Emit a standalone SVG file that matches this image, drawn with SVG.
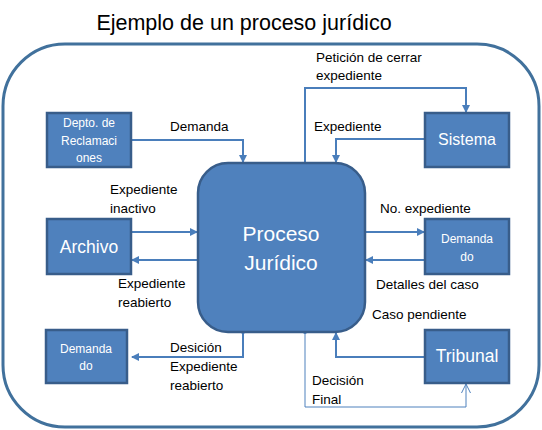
<svg xmlns="http://www.w3.org/2000/svg" width="542" height="430" viewBox="0 0 542 430">
<defs>
<style>
.box{fill:#4f81bd;stroke:#385d8a;stroke-width:2.5}
.wt{fill:#fff;font-family:"Liberation Sans",Arial,sans-serif;text-anchor:middle}
.lb{fill:#000;font-family:"Liberation Sans",Arial,sans-serif;font-size:13.5px}
.cn{fill:none;stroke:#4a7ebb;stroke-width:2}
.thin{fill:none;stroke:#4f81bd;stroke-width:1}
</style>
<marker id="ah" markerWidth="8" markerHeight="8" refX="7" refY="4" orient="auto" markerUnits="userSpaceOnUse">
<path d="M0,0 L8,4 L0,8 Z" fill="#4a7ebb"/>
</marker>
<marker id="oh" markerWidth="10" markerHeight="10" refX="9" refY="5" orient="auto" markerUnits="userSpaceOnUse">
<path d="M0,0.5 L9,5 L0,9.5" fill="none" stroke="#4f81bd" stroke-width="1"/>
</marker>
</defs>
<rect width="542" height="430" fill="#fff"/>
<text x="244" y="30" font-family="'Liberation Sans',Arial,sans-serif" font-size="21.5" fill="#000" text-anchor="middle">Ejemplo de un proceso jurídico</text>
<rect x="3" y="44" width="536" height="383" rx="62" ry="62" fill="none" stroke="#41719c" stroke-width="3"/>

<g id="connectors">
<path class="cn" d="M131,140 H243 V162" marker-end="url(#ah)"/>
<path class="cn" d="M305,163 V88 H466 V112" marker-end="url(#ah)"/>
<path class="cn" d="M425,139 H336 V162" marker-end="url(#ah)"/>
<path class="cn" d="M131,232 H197" marker-end="url(#ah)"/>
<path class="cn" d="M198,260 H132" marker-end="url(#ah)"/>
<path class="cn" d="M365,232 H424" marker-end="url(#ah)"/>
<path class="cn" d="M425,260 H366" marker-end="url(#ah)"/>
<path class="cn" d="M425,357 H336 V333" marker-end="url(#ah)"/>
<path class="cn" d="M243,332 V357 H132" marker-end="url(#ah)"/>
<circle cx="243" cy="332" r="2" fill="#4a7ebb"/>
<path class="thin" d="M305,332 V407 H466 V384" marker-end="url(#oh)"/>
<circle cx="305" cy="332" r="2" fill="#4a7ebb"/>
<text class="lb" x="170" y="131">Demanda</text>
<text class="lb" x="316" y="62">Petición de cerrar</text>
<text class="lb" x="316" y="80">expediente</text>
<text class="lb" x="314" y="131">Expediente</text>
<text class="lb" x="110" y="194">Expediente</text>
<text class="lb" x="110" y="213">inactivo</text>
<text class="lb" x="118" y="288">Expediente</text>
<text class="lb" x="118" y="307">reabierto</text>
<text class="lb" x="380" y="213">No. expediente</text>
<text class="lb" x="376" y="289">Detalles del caso</text>
<text class="lb" x="372" y="319">Caso pendiente</text>
<text class="lb" x="170" y="352">Desición</text>
<text class="lb" x="170" y="371">Expediente</text>
<text class="lb" x="170" y="390">reabierto</text>
<text class="lb" x="312" y="385">Decisión</text>
<text class="lb" x="312" y="404">Final</text>
</g>

<g id="depto">
<rect class="box" x="47" y="113" width="84" height="54"/>
<text class="wt" x="89" y="127" font-size="12">Depto. de</text>
<text class="wt" x="89" y="145" font-size="12">Reclamaci</text>
<text class="wt" x="89" y="162" font-size="12">ones</text>
</g>
<g id="archivo">
<rect class="box" x="47" y="219" width="84" height="55"/>
<text class="wt" x="89" y="253" font-size="17.5">Archivo</text>
</g>
<g id="proceso">
<rect class="box" x="198" y="163" width="167" height="169" rx="30" ry="30"/>
<text class="wt" x="281" y="241" font-size="21">Proceso</text>
<text class="wt" x="281" y="270" font-size="21">Jurídico</text>
</g>
<g id="sistema">
<rect class="box" x="425" y="113" width="84" height="54"/>
<text class="wt" x="467" y="145" font-size="16">Sistema</text>
</g>
<g id="demandado1">
<rect class="box" x="425" y="219" width="84" height="55"/>
<text class="wt" x="467" y="243" font-size="12">Demanda</text>
<text class="wt" x="467" y="261" font-size="12">do</text>
</g>
<g id="demandado2">
<rect class="box" x="46" y="330" width="81" height="53"/>
<text class="wt" x="86" y="353" font-size="12">Demanda</text>
<text class="wt" x="86" y="370" font-size="12">do</text>
</g>
<g id="tribunal">
<rect class="box" x="425" y="330" width="84" height="53"/>
<text class="wt" x="467" y="362" font-size="17.5">Tribunal</text>
</g>
</svg>
